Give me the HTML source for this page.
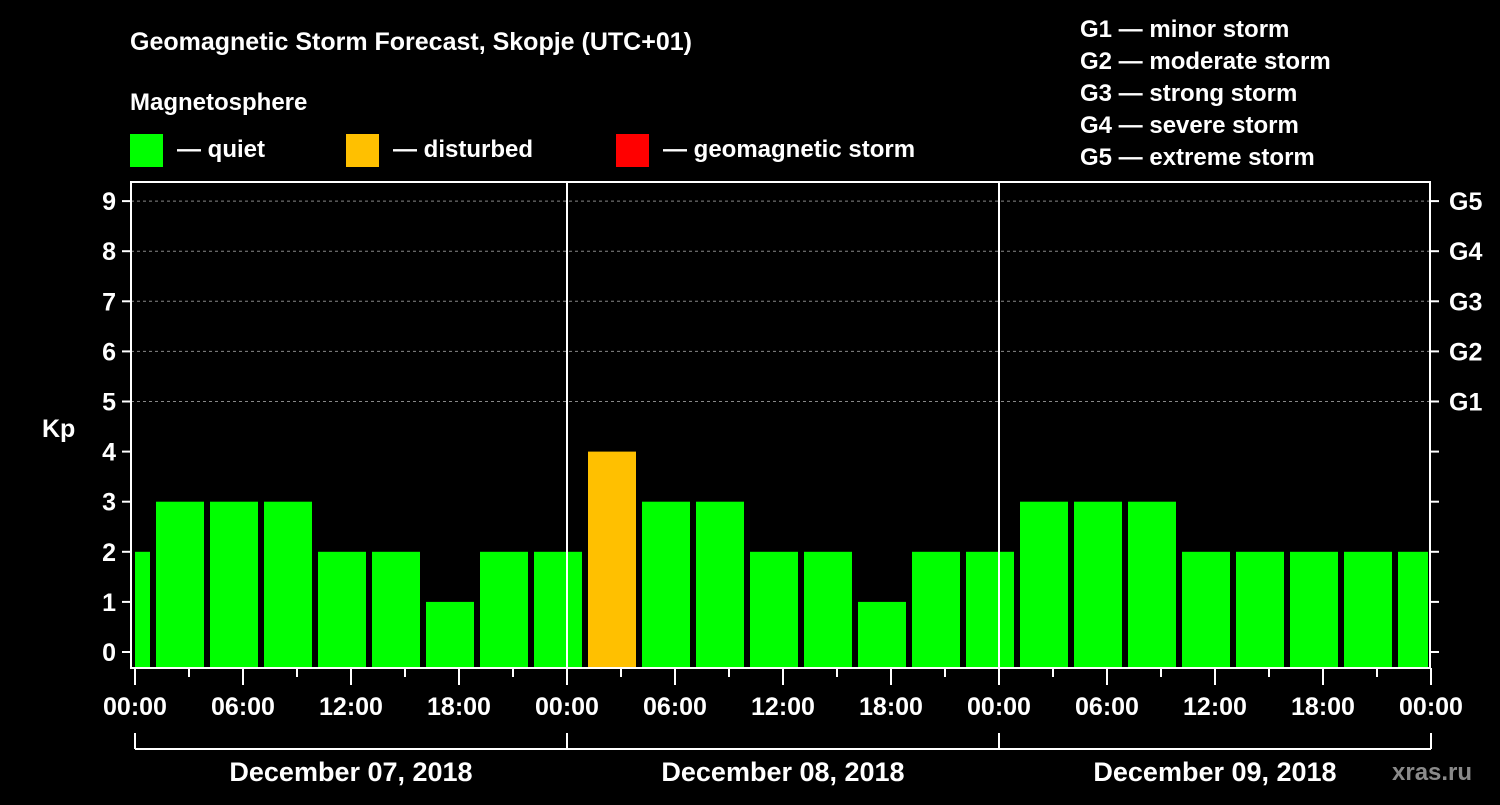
<!DOCTYPE html>
<html><head><meta charset="utf-8"><style>
body{margin:0;background:#000;width:1500px;height:800px;overflow:hidden}
svg text{font-family:"Liberation Sans",Arial,sans-serif;font-weight:bold;fill:#fff}
</style></head><body>
<svg id="c" width="1500" height="800" xmlns="http://www.w3.org/2000/svg">
<rect width="1500" height="800" fill="#000"/>
<text x="130" y="50" font-size="25">Geomagnetic Storm Forecast, Skopje (UTC+01)</text>
<text x="130" y="110" font-size="24">Magnetosphere</text>
<rect x="130" y="134" width="33" height="33" fill="#00ff00"/>
<text x="177" y="157" font-size="24">— quiet</text>
<rect x="346" y="134" width="33" height="33" fill="#ffc000"/>
<text x="393" y="157" font-size="24">— disturbed</text>
<rect x="616" y="134" width="33" height="33" fill="#ff0000"/>
<text x="663" y="157" font-size="24">— geomagnetic storm</text>
<g font-size="24">
<text x="1080" y="37">G1 — minor storm</text>
<text x="1080" y="69">G2 — moderate storm</text>
<text x="1080" y="101">G3 — strong storm</text>
<text x="1080" y="133">G4 — severe storm</text>
<text x="1080" y="165">G5 — extreme storm</text>
</g>
<text x="42" y="437" font-size="25">Kp</text>
<text x="1392" y="780" font-size="24" fill="#888" style="fill:#8a8a8a">xras.ru</text>
<g id="grid"></g><g id="bars"></g><g id="axes"></g>
</svg>
<script>
const kpValues=[2,3,3,3,2,2,1,2,2,4,3,3,2,2,1,2,2,3,3,3,2,2,2,2,2];
const yTicks=[0,1,2,3,4,5,6,7,8,9];
const gLabels=["G1","G2","G3","G4","G5"];
const gLevels=[5,6,7,8,9];
const xTickLabels=["00:00","06:00","12:00","18:00","00:00","06:00","12:00","18:00","00:00","06:00","12:00","18:00","00:00"];
const dayLabels=["December 07, 2018","December 08, 2018","December 09, 2018"];
const startOffsetHours=-2; // first interval starts 22:00 local
const NS="http://www.w3.org/2000/svg";
const L=131,R=1430,T=182,B=668;
const x=h=>135+h*18;
const y=v=>652-v*50.1;
function mk(tag,attrs,parent,txt){const e=document.createElementNS(NS,tag);for(const k in attrs)e.setAttribute(k,attrs[k]);if(txt!==undefined)e.textContent=txt;parent.appendChild(e);return e;}
const grid=document.getElementById('grid'),bars=document.getElementById('bars'),axes=document.getElementById('axes');
gLevels.forEach(v=>{const l=mk('line',{x1:L,x2:R,y1:y(v),y2:y(v),stroke:'#888','stroke-dasharray':'3,3','stroke-width':1},grid);

});
kpValues.forEach((v,i)=>{let h0=startOffsetHours+i*3,h1=h0+3;
let x0=Math.max(x(h0)+3,L+4),x1=Math.min(x(h1)-3,R-2);
const color=v>=5?'#ff0000':(v>=4?'#ffc000':'#00ff00');
const r=mk('rect',{x:x0,y:y(v),width:x1-x0,height:B-y(v),fill:color},bars);

});
mk('rect',{x:L,y:T,width:R-L,height:B-T,fill:'none',stroke:'#fff','stroke-width':2},axes);
[1,2].forEach(d=>{const l=mk('line',{x1:x(d*24),x2:x(d*24),y1:T,y2:B,stroke:'#fff','stroke-width':2},axes);

});
yTicks.forEach(v=>{mk('line',{x1:L-9,x2:L,y1:y(v),y2:y(v),stroke:'#fff','stroke-width':2},axes);
mk('line',{x1:R,x2:R+9,y1:y(v),y2:y(v),stroke:'#fff','stroke-width':2},axes);
const t=mk('text',{x:116,y:y(v)+9,'font-size':25,'text-anchor':'end'},axes,String(v));

});
gLabels.forEach((g,i)=>{const t=mk('text',{x:1449,y:y(gLevels[i])+9,'font-size':25},axes,g);

});
for(let h=0;h<=72;h+=3){const major=h%6===0;mk('line',{x1:x(h),x2:x(h),y1:B,y2:B+(major?17:9),stroke:'#fff','stroke-width':2},axes);}
xTickLabels.forEach((s,i)=>{const t=mk('text',{x:x(i*6),y:715,'font-size':25,'text-anchor':'middle'},axes,s);

});
mk('line',{x1:x(0),x2:x(72),y1:749,y2:749,stroke:'#fff','stroke-width':2},axes);
[0,24,48,72].forEach(h=>mk('line',{x1:x(h),x2:x(h),y1:733,y2:749,stroke:'#fff','stroke-width':2},axes));
dayLabels.forEach((s,i)=>{const t=mk('text',{x:x(i*24+12),y:781,'font-size':27,'text-anchor':'middle'},axes,s);

});
</script>
</body></html>
